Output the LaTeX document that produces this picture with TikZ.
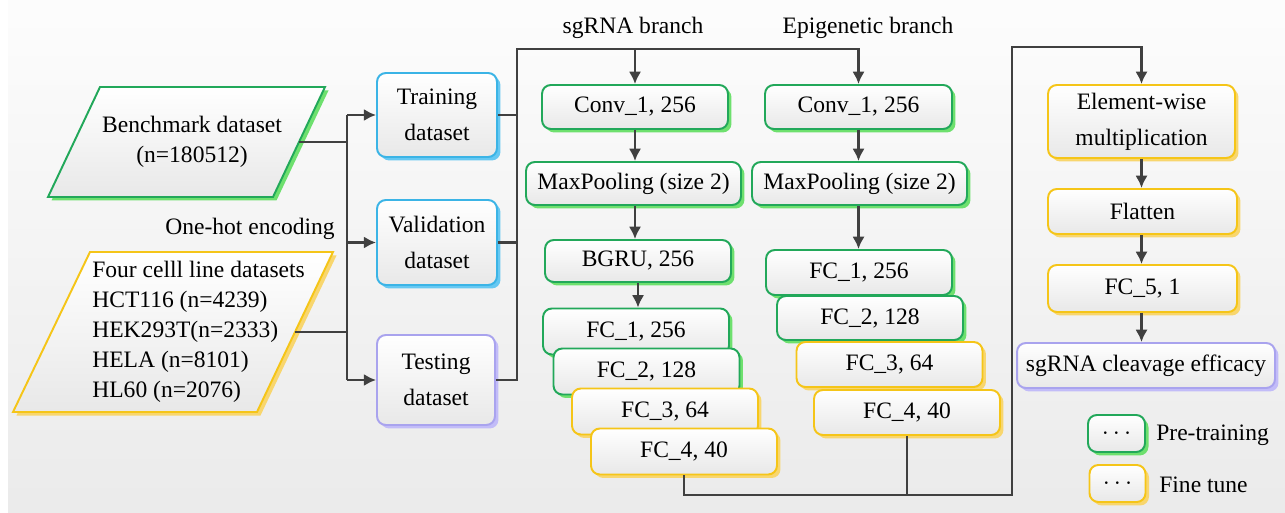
\documentclass[tikz,border=0pt]{standalone}
\usepackage{fontspec}
\setmainfont{Liberation Serif}
\usetikzlibrary{positioning, arrows.meta, calc, shadows}

\definecolor{grnline}{HTML}{22A85A}
\definecolor{grnshadow}{HTML}{6EE06E}
\definecolor{ylwline}{HTML}{F5C518}
\definecolor{ylwshadow}{HTML}{F8D66E}
\definecolor{bluline}{HTML}{3BB4E6}
\definecolor{blushadow}{HTML}{66C8F2}
\definecolor{purline}{HTML}{A9A3EE}
\definecolor{purshadow}{HTML}{C2BCF8}
\definecolor{wire}{HTML}{404040}

\tikzset{
  sombra/.style={drop shadow={shadow xshift=0.07cm, shadow yshift=-0.07cm, fill=#1, opacity=1}},
  bloque/.style={rectangle, rounded corners=5pt, inner sep=0pt, line width=1.1pt, top color=white, bottom color=black!9, text centered, align=center, font=\fontsize{13.4}{20.5}\selectfont},
  pretrain/.style={bloque, draw=grnline, sombra=grnshadow},
  finetune/.style={bloque, draw=ylwline, sombra=ylwshadow},
  datos/.style={bloque, draw=bluline, sombra=blushadow},
  salida/.style={bloque, draw=purline, sombra=purshadow},
  entrada/.style={line width=1.1pt, line join=miter, top color=white, bottom color=black!9},
  fcbox/.style={minimum width=3.72cm, minimum height=0.92cm},
  linea/.style={draw=wire, line width=1.5pt},
  arrow/.style={linea, -{Latex[length=7pt,width=7pt]}}
}

\begin{document}
\begin{tikzpicture}[x=0.02cm, y=-0.02cm, font=\fontsize{13.4}{17}\selectfont]

    \useasboundingbox (0,0) rectangle (1285,513);
    \fill[top color=black!1, bottom color=black!8] (8,0) rectangle (1285,513);

    % 1. Datos de entrada (paralelogramos)
    \draw[entrada, draw=ylwline, sombra=ylwshadow] (13,412) -- (257,412) -- (333,252) -- (90,252) -- cycle;
    \coordinate (cells) at (295,332);
    \node[anchor=west, align=left, inner sep=0pt] (cellstxt) at (92,332)
        {Four celll line datasets\\HCT116 (n=4239)\\HEK293T(n=2333)\\HELA (n=8101)\\HL60 (n=2076)};
    \draw[entrada, draw=grnline, sombra=grnshadow] (48,197) -- (273,197) -- (325,87) -- (100,87) -- cycle;
    \coordinate (bench) at (299,142);
    \node[align=center] (benchtxt) at (192,142) {Benchmark dataset\\(n=180512)};
    \node (onehot) at (250,229) {One-hot encoding};

    % 2. Particion de los datos
    \node[datos, minimum width=2.4cm, minimum height=1.68cm] (train) at (437,115) {Training\\dataset};
    \node[datos, minimum width=2.4cm, minimum height=1.7cm] (valid) at (437,242.5) {Validation\\dataset};
    \node[salida, minimum width=2.36cm, minimum height=1.8cm] (test) at (436,380) {Testing\\dataset};

    \coordinate (jin) at (347,242);
    \coordinate (jout) at (517,242);
    \coordinate (top) at (517,49);

    % 3. Rama sgRNA
    \node (slabel) at (633,28) {sgRNA branch};
    \node[pretrain, minimum width=3.72cm, minimum height=0.88cm] (sconv) at (635,107) {Conv\_1, 256};
    \node[pretrain, minimum width=4.3cm, minimum height=0.86cm] (smax) at (633.5,183.5) {MaxPooling (size 2)};
    \node[pretrain, minimum width=3.72cm, minimum height=0.84cm] (sbgru) at (638,261) {BGRU, 256};
    \node[pretrain, fcbox] (sfc1) at (636,331.5) {FC\_1, 256};
    \node[pretrain, fcbox] (sfc2) at (646.5,371.5) {FC\_2, 128};
    \node[finetune, fcbox] (sfc3) at (665,411.5) {FC\_3, 64};
    \node[finetune, fcbox] (sfc4) at (684,451.5) {FC\_4, 40};

    % 4. Rama epigenetica
    \node (elabel) at (868,28) {Epigenetic branch};
    \node[pretrain, minimum width=3.74cm, minimum height=0.88cm] (econv) at (858.5,107) {Conv\_1, 256};
    \node[pretrain, minimum width=4.3cm, minimum height=0.86cm] (emax) at (859.5,183.5) {MaxPooling (size 2)};
    \node[pretrain, fcbox, minimum height=0.9cm] (efc1) at (859,272.5) {FC\_1, 256};
    \node[pretrain, fcbox, minimum height=0.88cm] (efc2) at (870,318) {FC\_2, 128};
    \node[finetune, fcbox, minimum height=0.9cm] (efc3) at (889.5,364.5) {FC\_3, 64};
    \node[finetune, fcbox, minimum height=0.9cm] (efc4) at (907,412.5) {FC\_4, 40};

    % 5. Salida
    \node[finetune, minimum width=3.74cm, minimum height=1.46cm] (elem) at (1141.5,121.5) {Element-wise\\multiplication};
    \node[finetune, minimum width=3.78cm, minimum height=0.9cm] (flat) at (1142.5,211.5) {Flatten};
    \node[finetune, minimum width=3.78cm, minimum height=0.94cm] (fc5) at (1142.5,288.5) {FC\_5, 1};
    \node[salida, minimum width=5.16cm, minimum height=0.9cm] (out) at (1146,365.5) {sgRNA cleavage efficacy};

    \coordinate (bot) at (1012,495);
    \coordinate (ret) at (1012,47);

    % Leyenda
    \node[pretrain, minimum width=1.14cm, minimum height=0.74cm] (lgpre) at (1116.5,433.5) {$\cdots$};
    \node[finetune, minimum width=1.12cm, minimum height=0.74cm] (lgfine) at (1117.5,483.5) {$\cdots$};
    \node[anchor=west, inner sep=0pt] (lgpretxt) at (1156,435) {Pre-training};
    \node[anchor=west, inner sep=0pt] (lgfinetxt) at (1159,485) {Fine tune};

    % -------------------------------------------------------------
    % CONEXIONES
    % -------------------------------------------------------------
    \draw[linea] (bench) -- (bench -| jin);
    \draw[linea] (cells) -- (cells -| jin);
    \draw[linea] (jin |- train.west) -- (jin |- test.west);
    \draw[arrow] (jin |- train.west) -- (train.west);
    \draw[arrow] (jin |- valid.west) -- (valid.west);
    \draw[arrow] (jin |- test.west) -- (test.west);

    \draw[linea] (train.east) -- (train.east -| jout);
    \draw[linea] (valid.east) -- (valid.east -| jout);
    \draw[arrow] (test.east) -| (top) -| (econv.north);
    \draw[arrow] (sconv.north |- top) -- (sconv.north);

    % sgRNA
    \draw[arrow] (sconv) -- (sconv |- smax.north);
    \draw[arrow] (sconv |- smax.south) -- (sconv |- sbgru.north);
    \draw[arrow] (sbgru) -- (sbgru |- sfc1.north);

    % epigenetica
    \draw[arrow] (econv) -- (econv |- emax.north);
    \draw[arrow] (econv |- emax.south) -- (econv |- efc1.north);

    % union de ramas
    \draw[linea] (efc4.south) -- (efc4.south |- bot);
    \draw[arrow] (sfc4.south) |- (bot) -- (ret) -| (elem.north);

    \draw[arrow] (elem) -- (elem |- flat.north);
    \draw[arrow] (elem |- flat.south) -- (elem |- fc5.north);
    \draw[arrow] (elem |- fc5.south) -- (elem |- out.north);

\end{tikzpicture}
\end{document}
